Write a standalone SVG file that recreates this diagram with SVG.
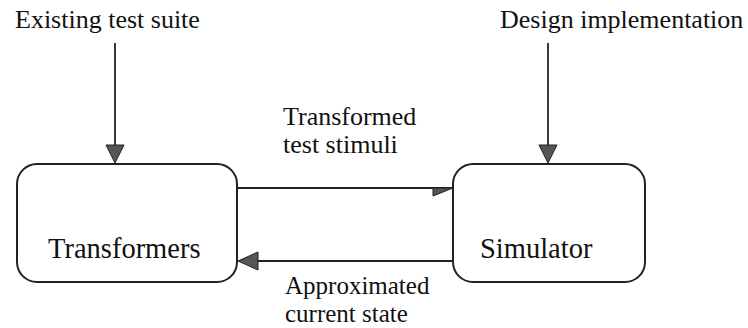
<svg xmlns="http://www.w3.org/2000/svg" width="748" height="328" viewBox="0 0 748 328">
<style>
.t{font-family:'Liberation Serif','DejaVu Serif',serif;fill:#111}
.lbl{font-size:26px}
.sm{font-size:25px}
.big{font-size:28.5px}
.box{fill:#fff;stroke:#222;stroke-width:2}
.ln{stroke:#222;stroke-width:1.8;fill:none}
.hd{fill:#555;stroke:#222;stroke-width:1}
</style>
<rect width="748" height="328" fill="#fff"/>
<g id="connectors">
<line class="ln" x1="115" y1="43" x2="115" y2="146"/>
<polygon class="hd" points="106,145 124,145 115,163"/>
<line class="ln" x1="548" y1="43" x2="548" y2="146"/>
<polygon class="hd" points="539,145 557,145 548,163"/>
<line class="ln" x1="237" y1="188" x2="453" y2="188"/>
<polygon class="hd" points="453,188 433,188 433,196"/>
<line class="ln" x1="255" y1="261" x2="453" y2="261"/>
<polygon class="hd" points="238,261 258,252 258,270"/>
</g>
<g id="existing-test-suite"><text class="t lbl" x="15" y="28">Existing test suite</text></g>
<g id="design-implementation"><text class="t lbl" x="500" y="28">Design implementation</text></g>
<g id="transformers">
<rect class="box" x="17" y="164" width="220" height="118" rx="20"/>
<text class="t big" x="48" y="258">Transformers</text>
</g>
<g id="simulator">
<rect class="box" x="453" y="164" width="192" height="118" rx="20"/>
<text class="t big" x="480" y="258">Simulator</text>
</g>
<g id="label-transformed"><text class="t lbl" x="283" y="125">Transformed</text><text class="t lbl" x="283" y="153">test stimuli</text></g>
<g id="label-approximated"><text class="t sm" x="285" y="294">Approximated</text><text class="t sm" x="285" y="322">current state</text></g>
</svg>
